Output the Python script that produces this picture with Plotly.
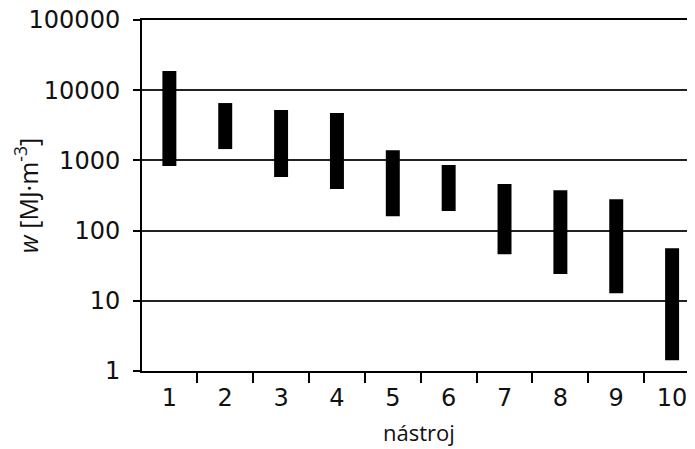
import plotly.graph_objects as go

categories = ["1", "2", "3", "4", "5", "6", "7", "8", "9", "10"]
w_low = [830, 1450, 580, 390, 160, 190, 46, 24, 12.8, 1.42]
w_high = [18750, 6560, 5210, 4730, 1400, 860, 460, 377, 280, 56]
y_tickvals = [1, 10, 100, 1000, 10000, 100000]
y_ticktext = ["1", "10", "100", "1000", "10000", "100000"]
x_title = "nástroj"
y_title = "<i>w</i> [MJ·m<sup>-3</sup>]"

TEXT_FONT = "Open Sans"
NUM_FONT = "DejaVu Sans"
INK = "#111"
fig = go.Figure()
fig.add_trace(go.Bar(
    x=categories,
    y=[h - l for h, l in zip(w_high, w_low)],
    base=w_low,
    width=0.25,
    marker=dict(color="black", line=dict(width=0)),
    hoverinfo="skip",
))
# page body has an 8px default margin: figure is sized to end at the window edges
fig.update_layout(
    width=687, height=441,
    margin=dict(l=134, r=0, t=12, b=78),
    plot_bgcolor="white", paper_bgcolor="white",
    showlegend=False,
    font=dict(family=TEXT_FONT, size=22, color=INK),
    xaxis=dict(
        type="category", range=[-0.49, 9.41], automargin=False,
        tickson="boundaries", ticks="outside", ticklen=10, tickwidth=2, tickcolor="black",
        showline=True, linecolor="black", linewidth=2, showgrid=False, mirror=True,
        ticklabelstandoff=4, ticklabeloverflow="allow",
        tickfont=dict(family=NUM_FONT, size=24, color=INK),
    ),
    yaxis=dict(
        type="log", range=[0, 5], automargin=False,
        tickmode="array", tickvals=y_tickvals, ticktext=y_ticktext,
        ticks="outside", ticklen=7, tickwidth=2, tickcolor="black",
        showline=True, linecolor="black", linewidth=2,
        showgrid=True, gridcolor="#222", gridwidth=1.5,
        zeroline=False, ticklabelstandoff=8, ticklabeloverflow="allow",
        tickfont=dict(family=NUM_FONT, size=24, color=INK),
        title=dict(text=y_title, font=dict(family=TEXT_FONT, size=25, color=INK), standoff=10),
    ),
    annotations=[dict(
        text=x_title, xref="paper", yref="paper", x=0.5, y=-0.174,
        xanchor="center", yanchor="middle", showarrow=False,
        font=dict(family=TEXT_FONT, size=22, color=INK),
        borderpad=0,
    )],
)
fig.write_html("out.html")
